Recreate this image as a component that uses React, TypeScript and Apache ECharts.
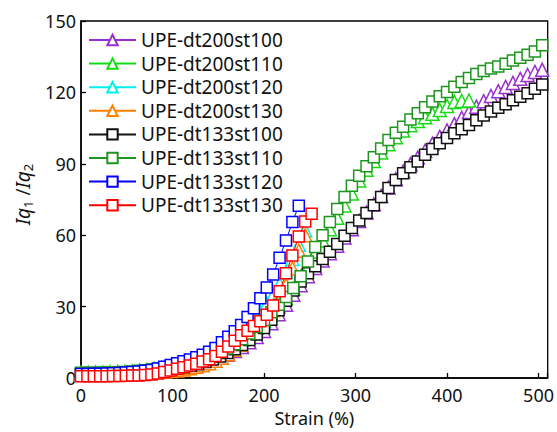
import React, { useEffect, useRef } from "react";
import * as echarts from "echarts";

const FONT = "'Noto Sans', 'DejaVu Sans', sans-serif";

const seriesNames = [
  "UPE-dt200st100",
  "UPE-dt200st110",
  "UPE-dt200st120",
  "UPE-dt200st130",
  "UPE-dt133st100",
  "UPE-dt133st110",
  "UPE-dt133st120",
  "UPE-dt133st130",
];
const seriesColors = ["#9a2fd0", "#14dc14", "#00f0f0", "#ff8000", "#111111", "#1e961e", "#0000ff", "#ff0000"];
const seriesSymbols = ["triangle", "triangle", "triangle", "triangle", "rect", "rect", "rect", "rect"];

const xTicks = [0, 100, 200, 300, 400, 500];
const yTicks = [0, 30, 60, 90, 120, 150];

const strainLong = [
  0, 8, 16, 24, 32, 40, 48, 56, 64, 72, 80, 88, 96, 104, 112, 120, 128, 136, 144, 152, 160, 168, 176, 184, 192, 200,
  208, 216, 224, 232, 240, 248, 256, 264, 272, 280, 288, 296, 304, 312, 320, 328, 336, 344, 352, 360, 368, 376, 384,
  392, 400, 408, 416, 424, 432, 440, 448, 456, 464, 472, 480, 488, 496, 504,
];
const strainShort = [
  0, 7, 14, 21, 28, 35, 42, 49, 56, 63, 70, 77, 84, 91, 98, 105, 112, 119, 126, 133, 140, 147, 154, 161, 168, 175, 182,
  189, 196, 203, 210, 217, 224, 231, 238, 245, 252,
];

const dt200st100 = [
  1.6, 1.6, 1.6, 1.7, 1.7, 1.8, 1.9, 2.0, 2.2, 2.4, 2.6, 2.9, 3.3, 3.7, 4.2, 4.8, 5.5, 6.4, 7.4, 8.5, 9.8, 11.3, 13.0,
  15.0, 17.2, 19.8, 23.0, 26.8, 30.8, 35.0, 39.0, 42.8, 46.2, 49.4, 52.4, 55.6, 59.0, 62.5, 66.0, 69.5, 73.0, 76.5,
  80.0, 83.5, 86.8, 89.8, 92.6, 95.5, 98.5, 101.3, 104.0, 106.7, 109.3, 111.8, 114.0, 116.3, 118.5, 120.5, 122.3,
  124.0, 125.7, 127.3, 128.6, 129.5,
];
const dt200st110 = [
  2.2, 2.2, 2.3, 2.3, 2.4, 2.5, 2.6, 2.8, 3.1, 3.4, 3.8, 4.2, 4.7, 5.3, 6.0, 6.8, 7.6, 8.6, 9.7, 11.0, 12.5, 14.2, 16.2,
  18.5, 21.0, 23.8, 26.8, 30.0, 33.4, 37.5, 42.5, 48.0, 53.0, 57.8, 62.5, 67.3, 72.5, 77.5, 83.0, 87.5, 91.2, 94.8,
  98.2, 101.2, 104.0, 106.2, 108.0, 109.6, 111.0, 112.6, 114.3, 116.0, 116.4, 116.6,
];
const dt200st120 = [
  1.6, 1.6, 1.7, 1.7, 1.8, 1.9, 2.0, 2.1, 2.3, 2.5, 2.8, 3.1, 3.5, 4.0, 4.6, 5.2, 5.9, 6.7, 7.5, 8.5, 9.7, 11.1, 12.8,
  14.8, 17.0, 19.4, 22.0, 24.8, 27.8, 31.2, 35.0, 39.5, 44.5, 50.0, 56.0, 62.0,
];
const dt200st130 = [
  1.8, 1.8, 1.8, 1.8, 1.8, 1.8, 1.9, 1.9, 2.0, 2.1, 2.2, 2.3, 2.5, 2.7, 2.9, 3.2, 3.6, 4.1, 4.7, 5.4, 6.2, 7.2, 8.5,
  10.0, 11.9, 14.0, 16.5, 19.2, 22.0, 25.0, 28.5, 33.0, 39.0, 46.0, 53.5, 60.0,
];
const dt133st100 = [
  1.6, 1.6, 1.6, 1.7, 1.7, 1.8, 1.9, 2.0, 2.2, 2.4, 2.7, 3.0, 3.4, 3.9, 4.5, 5.1, 5.8, 6.7, 7.8, 9.0, 10.5, 12.1, 13.9,
  16.0, 18.3, 21.0, 24.5, 28.5, 32.5, 36.8, 40.5, 44.0, 47.0, 50.0, 53.0, 56.3, 59.8, 63.0, 66.2, 69.3, 72.6, 76.0,
  79.8, 83.2, 86.0, 88.6, 91.0, 93.8, 96.2, 98.6, 100.8, 102.8, 104.5, 106.3, 108.3, 110.3, 112.0, 113.5, 115.0, 116.7,
  118.2, 119.6, 121.5, 123.3,
];
const dt133st110 = [
  2.2, 2.2, 2.2, 2.3, 2.3, 2.4, 2.5, 2.7, 3.0, 3.3, 3.7, 4.1, 4.6, 5.2, 5.9, 6.7, 7.5, 8.5, 9.6, 10.9, 12.4, 14.2, 16.3,
  18.7, 21.4, 24.4, 27.6, 30.8, 34.0, 37.8, 42.8, 49.0, 55.0, 60.0, 65.5, 71.0, 76.0, 80.8, 85.0, 89.0, 92.8, 96.4,
  100.0, 103.0, 105.6, 108.6, 111.2, 113.8, 116.2, 118.4, 120.2, 122.4, 124.4, 126.1, 127.7, 129.0, 130.0, 130.9,
  132.0, 133.4, 134.6, 135.8, 137.2, 139.8,
];
const dt133st120 = [
  1.7, 1.7, 1.8, 1.8, 1.9, 2.0, 2.1, 2.3, 2.5, 2.7, 3.0, 3.4, 4.0, 4.7, 5.5, 6.2, 7.0, 7.8, 8.7, 9.8, 11.0, 12.6, 15.0,
  17.3, 19.6, 22.3, 25.6, 29.3, 33.5, 38.0, 43.5, 50.5, 57.8, 65.5, 72.4,
];
const dt133st130 = [
  0.7, 0.7, 0.7, 0.7, 0.7, 0.8, 0.8, 0.9, 1.0, 1.1, 1.3, 1.5, 1.9, 2.5, 3.2, 3.9, 4.5, 5.2, 6.0, 6.9, 7.9, 9.2, 11.0,
  13.2, 15.6, 18.0, 19.9, 21.8, 23.8, 26.6, 30.5, 36.5, 44.0, 51.5, 59.5, 65.8, 69.0,
];

const seriesValues = [dt200st100, dt200st110, dt200st120, dt200st130, dt133st100, dt133st110, dt133st120, dt133st130];
const seriesStrain = [strainLong, strainLong, strainShort, strainShort, strainLong, strainLong, strainShort, strainShort];

export default function App() {
  const ref = useRef<HTMLDivElement>(null);
  useEffect(() => {
    document.body.style.margin = "0";
    if (!ref.current) return;
    const chart = echarts.init(ref.current, undefined, { renderer: "svg" });
    const series = seriesNames.map((name, i) => ({
      name,
      type: "line",
      data: seriesValues[i].map((v, k) => [seriesStrain[i][k], v]),
      symbol: seriesSymbols[i],
      symbolSize: seriesSymbols[i] === "rect" ? 11 : 13,
      lineStyle: { color: seriesColors[i], width: 1 },
      itemStyle: { color: "#ffffff", borderColor: seriesColors[i], borderWidth: 1.5 },
      emphasis: { disabled: true },
      z: 2 + i,
    }));
    chart.setOption({
      animation: false,
      backgroundColor: "#ffffff",
      grid: {
        left: 81,
        right: 9,
        top: 21,
        bottom: 49,
        show: true,
        borderColor: "#000",
        borderWidth: 1.3,
        backgroundColor: "transparent",
      },
      legend: {
        orient: "vertical",
        left: 83,
        top: 25,
        itemWidth: 47,
        itemHeight: 13,
        itemGap: 3.6,
        textStyle: { fontFamily: FONT, fontSize: 19, lineHeight: 20, color: "#111" },
        data: seriesNames,
      },
      xAxis: {
        type: "value",
        min: 0,
        max: 510,
        interval: 100,
        name: "Strain (%)",
        nameLocation: "middle",
        nameGap: 31,
        nameTextStyle: { fontFamily: FONT, fontSize: 18, color: "#111" },
        axisLine: { show: true, lineStyle: { color: "#000", width: 1.5 } },
        axisTick: { show: true, inside: true, length: 5, lineStyle: { color: "#000", width: 1.3 } },
        axisLabel: {
          fontFamily: FONT,
          fontSize: 18,
          color: "#111",
          margin: 8,
          formatter: (v: number) => (xTicks.includes(v) ? String(v) : ""),
        },
        splitLine: { show: false },
      },
      yAxis: {
        type: "value",
        min: 0,
        max: 150,
        interval: 30,
        name: "{i|Iq}{s|1}{n| /}{i|Iq}{s|2}",
        nameLocation: "middle",
        nameGap: 40,
        nameTextStyle: {
          fontFamily: FONT,
          fontSize: 19,
          color: "#111",
          padding: [0, 0, 0, 10],
          rich: {
            i: { fontFamily: FONT, fontSize: 19, fontStyle: "italic", color: "#111", lineHeight: 22 },
            n: { fontFamily: FONT, fontSize: 19, color: "#111", lineHeight: 22 },
            s: { fontFamily: FONT, fontSize: 13, color: "#111", lineHeight: 13, padding: [9, 0, 0, 0] },
          },
        },
        axisLine: { show: true, lineStyle: { color: "#000", width: 1.5 } },
        axisTick: { show: true, inside: true, length: 5, lineStyle: { color: "#000", width: 1.3 } },
        axisLabel: {
          fontFamily: FONT,
          fontSize: 18,
          color: "#111",
          margin: 5,
          formatter: (v: number) => (yTicks.includes(v) ? String(v) : ""),
        },
        splitLine: { show: false },
      },
      series,
    });
    return () => chart.dispose();
  }, []);
  return <div ref={ref} style={{ width: 557, height: 432 }} />;
}
